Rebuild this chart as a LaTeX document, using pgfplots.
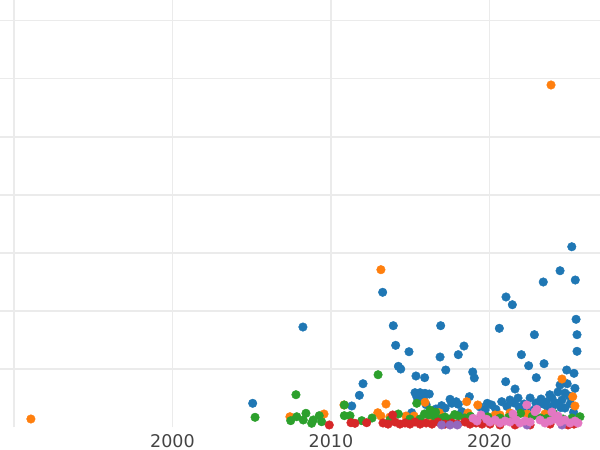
\documentclass[border=0pt]{standalone}
\usepackage{pgfplots}
\pgfplotsset{compat=1.18}
\usepackage{fontspec}
\setmainfont{DejaVu Sans}
\definecolor{cblue}{HTML}{1F77B4}
\definecolor{corange}{HTML}{FF7F0E}
\definecolor{cgreen}{HTML}{2CA02C}
\definecolor{cred}{HTML}{D62728}
\definecolor{cpurple}{HTML}{9467BD}
\definecolor{cpink}{HTML}{E377C2}
\definecolor{gridc}{HTML}{EBEBEB}
\definecolor{tickc}{HTML}{444444}
\begin{document}
\begin{tikzpicture}
\begin{axis}[
  at={(0pt,22.7pt)}, anchor=south west,
  scale only axis, width=600pt, height=427.3pt,
  xmin=1989.12, xmax=2026.97, ymin=0, ymax=73.55,
  xtick={1990,2000,2010,2020}, xticklabels={,2000,2010,2020},
  ytick={10,20,30,40,50,60,70}, yticklabels={},
  xmajorgrids, ymajorgrids,
  major grid style={color=gridc, line width=1.5pt},
  axis line style={draw=none}, major tick length=0pt,
  /pgf/number format/assume math mode=true,
  xticklabel style={font=\fontsize{17.5}{20}\selectfont, text=tickc, yshift=-3.5pt},
]
% blue
\addplot[cblue, only marks, mark=*, mark size=4.3pt] coordinates {
(2005.06,4.13) (2008.23,17.26) (2013.26,23.24) (2012.02,7.50) (2011.79,5.51) (2011.31,3.67)
(2013.93,17.49) (2014.08,14.11) (2014.25,10.50) (2014.40,10.03) (2014.92,13.01) (2015.36,8.83)
(2015.91,8.54) (2016.92,17.49) (2016.88,12.10) (2017.24,9.86) (2018.03,12.50) (2018.39,13.99)
(2018.94,9.52) (2019.04,8.49) (2020.62,17.04) (2021.04,22.43) (2021.44,21.10) (2021.02,7.85)
(2021.61,6.59) (2022.01,12.50) (2022.47,10.60) (2022.83,15.94) (2022.95,8.54) (2023.39,25.01)
(2023.44,10.95) (2024.45,26.95) (2025.19,31.08) (2025.41,25.35) (2025.46,18.59) (2025.52,15.94)
(2025.52,13.08) (2024.87,9.86) (2025.33,9.29) (2024.45,7.28) (2025.39,6.71) (2025.02,5.39)
(2024.57,4.70) (2015.30,5.96) (2015.62,5.96) (2015.93,5.85) (2016.20,5.73) (2015.41,5.27)
(2015.82,4.99) (2016.98,3.72) (2017.51,4.82) (2017.62,4.13) (2018.03,3.96) (2018.73,5.27)
(2019.86,4.13) (2015.09,2.51) (2018.25,2.69) (2020.14,3.84) (2020.77,4.41) (2019.72,2.98)
(2021.29,4.70) (2021.80,5.04) (2022.18,4.01) (2022.56,5.04) (2022.93,4.18) (2023.25,4.87)
(2023.56,4.35) (2023.94,5.04) (2024.20,4.18) (2023.69,3.32) (2022.81,2.98) (2021.86,3.49)
(2024.76,3.32) (2024.32,6.08) (2024.76,5.90) (2016.62,3.15)
(2020.40,3.10) (2021.10,3.60) (2021.55,4.20) (2022.30,3.40) (2023.00,3.60) (2023.40,4.00)
(2024.00,3.70) (2024.50,3.40) (2025.10,4.10) (2025.30,2.60) (2017.20,3.30) (2017.90,4.40)
(2019.40,3.50) (2016.00,3.90) (2023.80,5.60) (2024.90,7.50)
};
% orange
\addplot[corange, only marks, mark=*, mark size=4.3pt] coordinates {
(1991.07,1.43) (2013.15,27.13) (2023.88,58.92) (2024.57,8.31) (2007.41,1.82) (2009.56,2.29)
(2010.82,3.84) (2012.95,2.51) (2013.47,4.01) (2013.15,1.94) (2014.73,1.94) (2015.93,4.30)
(2016.83,2.51) (2018.56,4.41) (2019.26,3.84) (2020.35,2.12) (2025.25,5.27) (2025.39,3.67)
(2018.64,2.46) (2020.66,2.12) (2021.29,2.46) (2022.37,2.29) (2023.50,2.29) (2024.20,1.94)
(2016.44,1.60) (2015.24,1.94) (2013.72,1.77) (2021.55,1.94)
};
% green
\addplot[cgreen, only marks, mark=*, mark size=4.3pt] coordinates {
(2005.21,1.72) (2007.79,5.61) (2007.46,1.14) (2007.84,1.82) (2008.42,2.41) (2008.25,1.26)
(2008.78,0.69) (2008.88,1.26) (2009.26,2.00) (2009.41,0.96) (2010.84,3.84) (2010.84,2.00)
(2011.20,2.00) (2011.94,1.14) (2012.97,9.05) (2015.41,4.13) (2014.25,2.29) (2016.25,2.98)
(2016.15,2.12) (2016.56,1.82) (2016.98,1.55) (2018.03,1.94) (2014.98,1.43) (2015.62,1.43)
(2017.51,1.43) (2018.45,1.60) (2019.40,1.43) (2020.66,1.60) (2021.96,2.41) (2023.19,1.60)
(2024.03,2.41) (2025.71,1.82) (2024.64,1.43) (2013.72,1.26) (2012.59,1.60) (2017.19,1.77)
(2015.90,2.30) (2016.60,2.60) (2017.80,2.20) (2018.80,1.90) (2019.90,1.80) (2021.20,1.70)
(2022.70,1.90) (2023.60,1.50) (2025.20,1.60)
};
% red
\addplot[cred, only marks, mark=*, mark size=4.3pt] coordinates {
(2009.89,0.40) (2011.26,0.79) (2011.51,0.69) (2012.25,0.79) (2013.89,2.12) (2013.28,0.74)
(2013.60,0.55) (2014.04,0.91) (2014.35,0.55) (2014.67,0.74) (2014.98,0.55) (2015.30,0.91)
(2015.62,0.55) (2016.00,0.74) (2016.37,0.55) (2016.75,0.91) (2017.19,0.55) (2017.63,0.74)
(2018.00,0.55) (2018.45,0.91) (2018.77,0.55) (2019.15,0.74) (2019.53,0.55) (2020.03,0.55)
(2020.66,0.40) (2021.61,0.40) (2022.56,0.40) (2023.82,0.55) (2024.95,0.40) (2025.33,0.55)
};
% purple
\addplot[cpurple, only marks, mark=*, mark size=4.3pt] coordinates {
(2016.98,0.40) (2017.51,0.40) (2017.97,0.40) (2024.57,0.40) (2022.37,0.40)
};
% pink
\addplot[cpink, only marks, mark=*, mark size=4.3pt] coordinates {
(2018.96,1.55) (2019.46,2.12) (2019.82,1.38) (2022.35,3.84) (2022.87,2.69) (2022.98,3.10)
(2019.21,1.08) (2020.03,0.91) (2020.35,1.26) (2020.66,0.74) (2020.98,1.08) (2021.29,0.91)
(2021.67,1.26) (2021.92,0.74) (2022.24,1.08) (2022.56,0.91) (2023.19,1.26) (2023.50,0.74)
(2023.82,1.08) (2024.13,1.43) (2024.45,0.91) (2024.76,1.26) (2025.08,0.74) (2025.39,1.08)
(2025.58,0.74) (2021.48,2.29) (2023.94,2.63) (2024.32,1.94)
};
\end{axis}
\pgfresetboundingbox
\useasboundingbox (0,0) rectangle (600pt,450pt);
\end{tikzpicture}
\end{document}
